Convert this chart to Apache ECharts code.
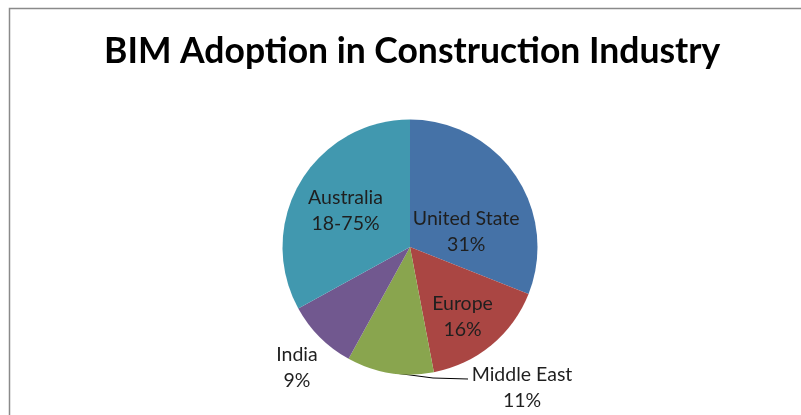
<!DOCTYPE html>
<html>
<head>
<meta charset="utf-8">
<script src="https://cdn.jsdelivr.net/npm/echarts@6/dist/echarts.min.js"></script>
<style>
    html, body { margin: 0; padding: 0; background: #fff; }
    #chart { width: 801px; height: 415px; }
</style>
</head>
<body>
<div id="chart"></div>
<script>
// 数据
const regions = ['United State', 'Europe', 'Middle East', 'India', 'Australia'];
const shares = [31, 16, 11, 9, 33];
const shareLabels = ['31%', '16%', '11%', '9%', '18-75%'];
const sliceColors = ['#4572A7', '#AA4643', '#89A54E', '#71588F', '#4198AF'];

// 标签偏移 (inside labels)
const insideOffsets = {
    'United State': [1, 22],
    'Europe': [10, 18],
    'Australia': [-7, -2]
};

const labelFont = 'Lato, "Open Sans", sans-serif';

const pieData = regions.map((name, i) => {
    const item = {
        name: name,
        value: shares[i],
        itemStyle: { color: sliceColors[i] }
    };
    if (insideOffsets[name]) {
        item.label = { position: 'inside', offset: insideOffsets[name] };
        item.labelLine = { show: false };
    } else {
        item.label = { position: 'outside' };
        item.labelLine = { show: name === 'Middle East', lineStyle: { color: '#000', width: 1 } };
    }
    return item;
});

const chart = echarts.init(document.getElementById('chart'));
chart.setOption({
    animation: false,
    backgroundColor: '#fff',
    graphic: [
        {
            type: 'rect',
            shape: { x: 9.5, y: 8.5, width: 820, height: 440 },
            style: { fill: 'none', stroke: '#8a8a8a', lineWidth: 1.5 }
        }
    ],
    title: {
        text: 'BIM Adoption in Construction Industry',
        left: 99,
        top: 29,
        textStyle: {
            fontFamily: labelFont,
            fontWeight: 'bold',
            fontSize: 35.5,
            color: '#000'
        }
    },
    series: [
        {
            type: 'pie',
            center: [410, 247],
            radius: 127.5,
            startAngle: 90,
            clockwise: true,
            data: pieData,
            label: {
                formatter: (p) => p.name + '\n' + shareLabels[p.dataIndex],
                fontFamily: labelFont,
                fontSize: 19.5,
                lineHeight: 26,
                color: '#1f1f1f',
                align: 'center'
            },
            labelLayout: (params) => {
                const name = regions[params.dataIndex];
                if (name === 'Middle East') {
                    return {
                        x: 522, y: 388, align: 'center', verticalAlign: 'middle',
                        labelLinePoints: [[395, 373], [433, 378], [468, 379]]
                    };
                }
                if (name === 'India') {
                    return { x: 297, y: 368, align: 'center', verticalAlign: 'middle' };
                }
                return {};
            },
            emphasis: { disabled: true }
        }
    ]
});
</script>
</body>
</html>
